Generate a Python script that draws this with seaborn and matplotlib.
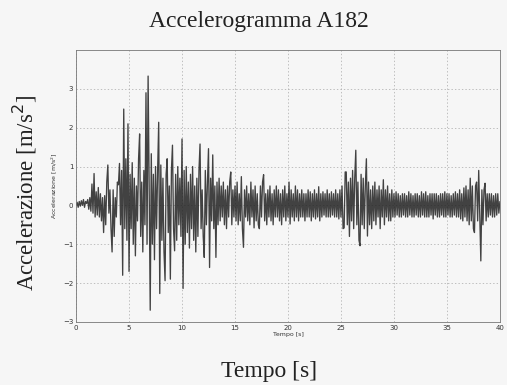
import matplotlib
matplotlib.use("Agg")
import matplotlib.pyplot as plt
import seaborn as sns
import numpy as np

# campionamento dell'accelerogramma (dt = 0.1 s)
dt = 0.1
acc = [
    0.0, 0.08, -0.05, 0.1, -0.02, 0.12, 0.0, 0.15, -0.05, 0.1,
    0.05, 0.15, -0.1, 0.2, -0.15, 0.55, -0.2, 0.82, -0.3, 0.35,
    -0.25, 0.46, -0.3, 0.3, -0.4, 0.2, -0.7, 0.25, -0.5, 0.6,
    1.04, -0.2, 0.4, -0.6, -1.2, 0.4, -0.8, 0.2, -0.3, 0.6,
    0.53, 1.08, -0.5, 0.9, -1.8, 2.48, -0.6, 1.2, -0.9, 2.1,
    -1.7, 0.8, -0.6, 1.1, -1.0, 0.7, -1.3, 0.5, -0.4, 1.2,
    1.84, -0.8, 0.6, -1.2, 0.9, -0.5, 2.9, -1.0, 3.33, 0.5,
    -2.7, 1.33, -1.0, 0.8, -1.4, 1.0, -0.6, 0.9, 2.14, -2.27,
    1.04, -0.9, 0.7, -1.2, -1.94, 0.8, 1.2, -0.7, 0.5, -1.9,
    0.9, 1.55, -0.6, -1.17, 0.8, -0.9, 1.0, -0.5, 0.7, -0.8,
    1.71, -2.14, 0.9, -1.0, 1.0, -0.7, 0.6, -1.1, 0.8, -0.6,
    1.0, -0.9, 0.5, -1.2, 0.7, -0.8, 0.9, 1.58, -0.6, 0.4,
    -0.8, -1.34, 0.9, -0.5, 0.6, 1.46, -1.6, 0.7, -0.4, 1.3,
    -0.6, 0.5, -1.34, 0.6, -0.5, 0.7, -0.4, 0.5, -0.3, 0.6,
    -0.5, 0.4, -0.6, 0.5, -0.3, 0.6, 0.86, -0.5, 0.4, -0.3,
    0.5, -0.4, 0.6, -0.5, 0.3, -0.4, 0.74, -0.6, -1.08, 0.4,
    -0.3, 0.5, -0.4, 0.3, -0.5, 0.6, -0.3, 0.4, -0.58, 0.5,
    -0.4, 0.3, -0.5, -0.6, 0.5, -0.3, 0.6, 0.79, -0.4, 0.3,
    -0.5, 0.4, -0.3, 0.5, -0.4, 0.3, -0.5, 0.4, -0.3, 0.5,
    -0.3, 0.4, -0.4, 0.3, -0.5, 0.4, -0.3, 0.5, -0.4, 0.3,
    -0.3, 0.6, -0.48, 0.4, -0.3, 0.3, -0.4, 0.5, -0.3, 0.4,
    -0.4, 0.3, -0.3, 0.4, -0.3, 0.3, -0.4, 0.3, -0.3, 0.4,
    -0.3, 0.35, -0.4, 0.3, -0.3, 0.4, -0.35, 0.3, -0.3, 0.48,
    -0.4, 0.3, -0.3, 0.35, -0.25, 0.3, -0.3, 0.4, -0.3, 0.3,
    -0.3, 0.35, -0.25, 0.3, -0.3, 0.4, -0.3, 0.3, -0.35, 0.4,
    -0.3, 0.5, -0.6, -0.58, 0.86, 0.86, -0.5, 0.6, -0.8, 0.7,
    -0.4, 0.9, -0.6, 0.7, 1.42, -0.5, 0.6, -0.9, -1.04, 0.8,
    -0.5, 0.7, -0.6, 0.5, 1.2, -0.79, 0.6, -0.5, 0.4, -0.6,
    0.5, -0.4, 0.6, -0.5, 0.4, -0.3, 0.5, -0.6, 0.4, -0.3,
    0.66, -0.5, 0.4, -0.3, 0.5, -0.4, 0.3, -0.4, 0.4, -0.3,
    0.3, -0.3, 0.35, -0.25, 0.3, -0.3, 0.25, -0.3, 0.3, -0.25,
    0.3, -0.3, 0.25, -0.3, 0.35, -0.25, 0.3, -0.3, 0.25, -0.3,
    0.3, -0.25, 0.3, -0.3, 0.25, -0.3, 0.35, -0.25, 0.3, -0.3,
    0.35, -0.3, 0.25, -0.3, 0.3, -0.25, 0.3, -0.35, 0.3, -0.25,
    0.3, -0.3, 0.25, -0.3, 0.3, -0.25, 0.3, -0.3, 0.35, -0.3,
    0.3, -0.25, 0.3, -0.3, 0.25, -0.3, 0.3, -0.25, 0.35, -0.3,
    0.3, -0.3, 0.4, -0.35, 0.3, -0.4, 0.45, -0.3, 0.5, -0.4,
    0.4, -0.5, 0.7, -0.4, 0.5, -0.6, -0.7, 0.5, 0.6, -0.4,
    0.9, -0.3, -1.43, 0.4, -0.5, 0.4, 0.57, -0.4, 0.3, -0.3,
    0.3, -0.25, 0.3, -0.3, 0.25, -0.3, 0.3, -0.25, 0.3, -0.2,
    0.1,
]
tempo = np.arange(len(acc)) * dt

xticks = [0, 5, 10, 15, 20, 25, 30, 35, 40]
yticks = [-3, -2, -1, 0, 1, 2, 3]

sns.set_style("white")
bg = "#f6f6f6"
fig = plt.figure(figsize=(5.07, 3.85), dpi=100, facecolor=bg)
ax = fig.add_axes([0.150, 0.164, 0.836, 0.706])
ax.set_facecolor(bg)

sns.lineplot(x=tempo, y=acc, ax=ax, color="#222222", linewidth=0.95, alpha=0.85)

ax.set_xlim(0, 40)
ax.set_ylim(-3, 4)
ax.set_xticks(xticks)
ax.set_yticks(yticks)
ax.grid(True, linestyle=(0, (2, 3)), color="#a8a8a8", linewidth=0.5)
ax.tick_params(labelsize=5, colors="#333333", length=0, pad=2)
for s in ax.spines.values():
    s.set_color("#777777")
    s.set_linewidth(0.6)
    s.set_linestyle((0, (1.5, 1)))

# etichette piccole (interne al grafico MATLAB)
ax.set_xlabel("Tempo [s]", fontsize=4.5, labelpad=1, color="#333333")
ax.set_ylabel("Accelerazione [m/s$^2$]", fontsize=4.5, labelpad=3, color="#333333")

# etichette grandi
serif = "Liberation Serif"
fig.text(0.51, 0.945, "Accelerogramma A182", ha="center", va="center",
         fontsize=17, family=serif, color="#222222")
fig.text(0.53, 0.035, "Tempo [s]", ha="center", va="center",
         fontsize=17, family=serif, color="#222222")
fig.text(0.05, 0.50, "Accelerazione [m/s$^2$]", ha="center", va="center",
         rotation=90, fontsize=16.5, family=serif, color="#222222")

fig.savefig("out.png", dpi=100, facecolor=bg)
